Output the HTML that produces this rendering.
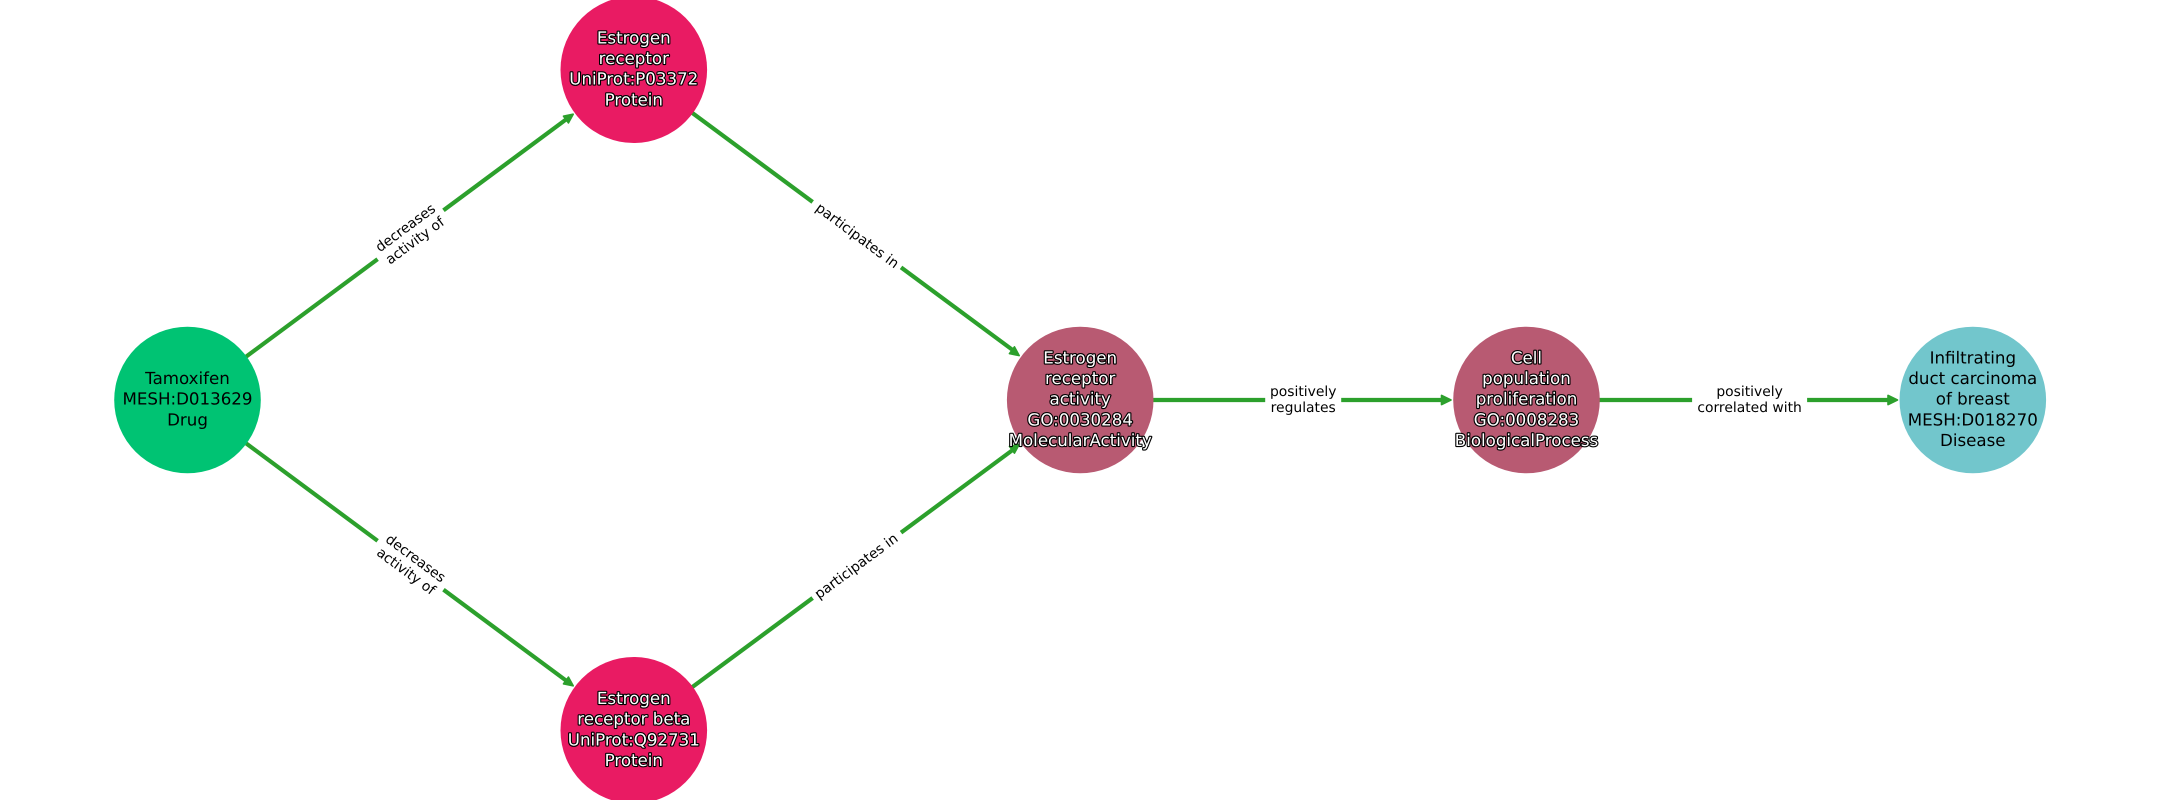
<!DOCTYPE html>
<html>
<head>
<meta charset="utf-8">
<style>
html,body{margin:0;padding:0;background:#fff;width:2160px;height:800px;overflow:hidden}
svg{display:block}
text{font-family:"DejaVu Sans",sans-serif;text-anchor:middle;text-rendering:geometricPrecision}
.n text{font-size:16.67px;fill:#000}
.o text{font-size:16.67px;fill:#fff;stroke:#000;stroke-width:2.3px;paint-order:stroke fill;stroke-linejoin:round}
.e text{font-size:13.89px;fill:#000}
.l{stroke:#2ca02c;stroke-width:4.17;fill:none}
.a{fill:#2ca02c;stroke:#2ca02c;stroke-width:1.6;stroke-linejoin:round}
</style>
</head>
<body>
<svg width="2160" height="800" viewBox="0 0 2160 800" xmlns="http://www.w3.org/2000/svg">
<rect width="2160" height="800" fill="#fff"/>

<!-- edges -->
<line class="l" x1="246.2" y1="356.6" x2="568" y2="118"/>
<line class="l" x1="692.3" y1="112.9" x2="1014" y2="351"/>
<line class="l" x1="246.2" y1="443.4" x2="568" y2="682"/>
<line class="l" x1="692.3" y1="687.1" x2="1014" y2="449"/>
<line class="l" x1="1153" y1="400" x2="1443" y2="400"/>
<line class="l" x1="1599.4" y1="400" x2="1889" y2="400"/>

<!-- arrowheads -->
<g transform="translate(574,113.6) rotate(-36.5)"><polygon class="a" points="-1,0 -10,-4.2 -10,4.2"/></g>
<g transform="translate(1020,356.2) rotate(36.5)"><polygon class="a" points="-1,0 -10,-4.2 -10,4.2"/></g>
<g transform="translate(574,686.4) rotate(36.5)"><polygon class="a" points="-1,0 -10,-4.2 -10,4.2"/></g>
<g transform="translate(1020,443.8) rotate(-36.5)"><polygon class="a" points="-1,0 -10,-4.2 -10,4.2"/></g>
<polygon class="a" points="1451,400 1441.5,395.4 1441.5,404.6"/>
<polygon class="a" points="1897.5,400 1888,395.4 1888,404.6"/>

<!-- edge labels -->
<g class="e">
  <g transform="translate(410.55,234.75) rotate(-36.5)">
    <rect x="-41" y="-21" width="82" height="42" fill="#fff"/>
    <text y="-4">decreases</text><text y="12">activity of</text>
  </g>
  <g transform="translate(856.8,234.75) rotate(36.5)">
    <rect x="-55" y="-13" width="110" height="26" fill="#fff"/>
    <text x="1" y="5">participates in</text>
  </g>
  <g transform="translate(410.55,565.25) rotate(36.5)">
    <rect x="-41" y="-21" width="82" height="42" fill="#fff"/>
    <text y="-4">decreases</text><text y="12">activity of</text>
  </g>
  <g transform="translate(856.8,565.25) rotate(-36.5)">
    <rect x="-55" y="-13" width="110" height="26" fill="#fff"/>
    <text x="-1" y="5">participates in</text>
  </g>
  <g transform="translate(1303.2,400)">
    <rect x="-38" y="-21" width="76" height="42" fill="#fff"/>
    <text y="-4">positively</text><text y="12">regulates</text>
  </g>
  <g transform="translate(1749.6,400)">
    <rect x="-57.5" y="-21" width="115" height="42" fill="#fff"/>
    <text y="-4">positively</text><text y="12">correlated with</text>
  </g>
</g>

<!-- nodes -->
<circle cx="187.5" cy="400" r="73.3" fill="#00c373"/>
<circle cx="633.8" cy="69.7" r="73.3" fill="#e91b63"/>
<circle cx="633.8" cy="730.3" r="73.3" fill="#e91b63"/>
<circle cx="1080.2" cy="400" r="73.3" fill="#b85a72"/>
<circle cx="1526.5" cy="400" r="73.3" fill="#b85a72"/>
<circle cx="1972.8" cy="400" r="73.3" fill="#72c6cc"/>

<!-- node labels -->
<g class="n" transform="translate(0,-1.3)">
  <text x="187.5" y="385.4">Tamoxifen</text>
  <text x="187.5" y="406">MESH:D013629</text>
  <text x="187.5" y="426.6">Drug</text>
</g>
<g class="n" transform="translate(0,-1.3)">
  <text x="1972.8" y="364.8">Infiltrating</text>
  <text x="1972.8" y="385.4">duct carcinoma</text>
  <text x="1972.8" y="406">of breast</text>
  <text x="1972.8" y="426.6">MESH:D018270</text>
  <text x="1972.8" y="447.2">Disease</text>
</g>
<g class="o" transform="translate(0,-1.3)">
  <text x="633.8" y="44.8">Estrogen</text>
  <text x="633.8" y="65.4">receptor</text>
  <text x="633.8" y="86">UniProt:P03372</text>
  <text x="633.8" y="106.6">Protein</text>
</g>
<g class="o" transform="translate(0,-1.3)">
  <text x="633.8" y="705.4">Estrogen</text>
  <text x="633.8" y="726">receptor beta</text>
  <text x="633.8" y="746.6">UniProt:Q92731</text>
  <text x="633.8" y="767.2">Protein</text>
</g>
<g class="o" transform="translate(0,-1.3)">
  <text x="1080.2" y="364.8">Estrogen</text>
  <text x="1080.2" y="385.4">receptor</text>
  <text x="1080.2" y="406">activity</text>
  <text x="1080.2" y="426.6">GO:0030284</text>
  <text x="1080.2" y="447.2">MolecularActivity</text>
</g>
<g class="o" transform="translate(0,-1.3)">
  <text x="1526.5" y="364.8">Cell</text>
  <text x="1526.5" y="385.4">population</text>
  <text x="1526.5" y="406">proliferation</text>
  <text x="1526.5" y="426.6">GO:0008283</text>
  <text x="1526.5" y="447.2">BiologicalProcess</text>
</g>
</svg>
</body>
</html>
